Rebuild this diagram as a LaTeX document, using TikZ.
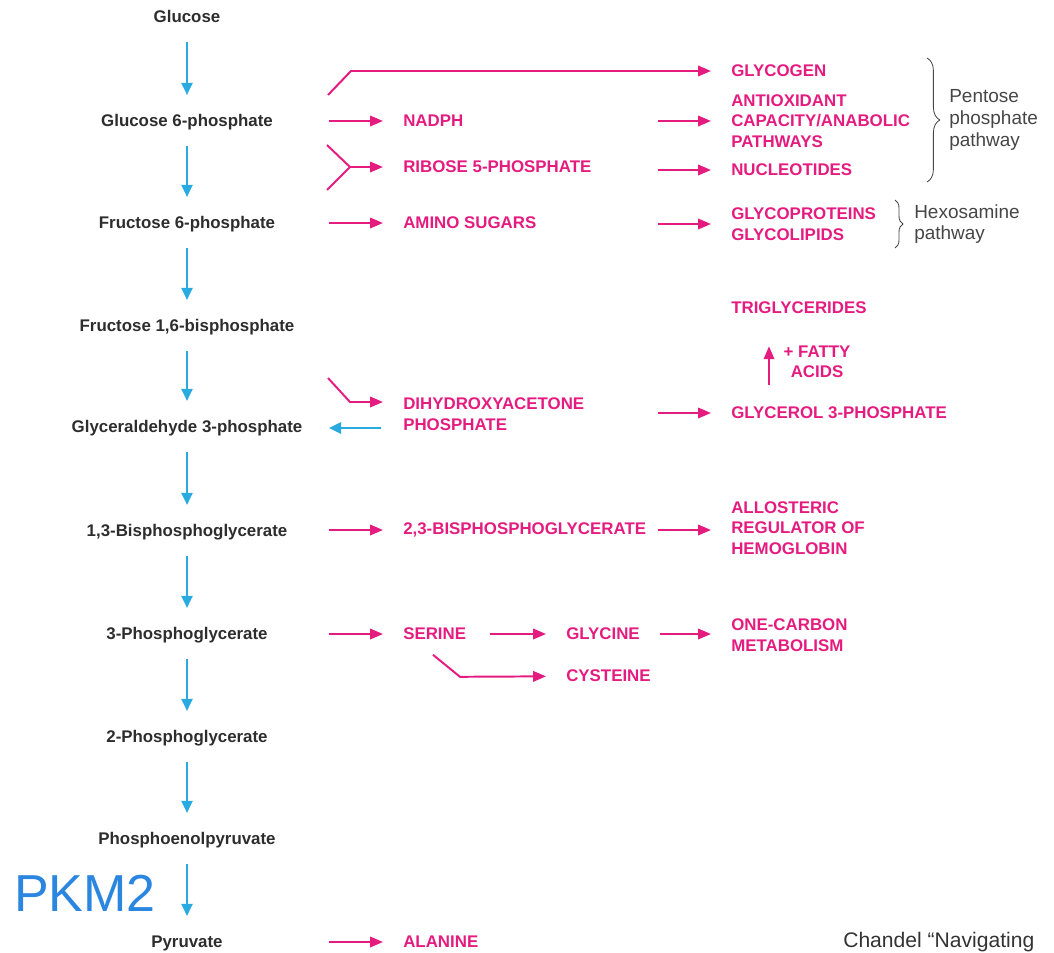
\documentclass[tikz,border=0pt]{standalone}
\usepackage{fontspec}
\setmainfont{Liberation Sans}
\usepackage{xcolor}
\definecolor{glyblue}{RGB}{41,171,226}
\definecolor{glymagenta}{RGB}{229,28,128}
\definecolor{glytext}{RGB}{45,45,45}
\definecolor{glygray}{RGB}{70,70,70}
\definecolor{pkmblue}{RGB}{43,134,224}
\usetikzlibrary{arrows.meta, positioning, decorations.pathreplacing}

\tikzset{
  metab/.style={font=\bfseries\fontsize{12}{14}\selectfont, text=glytext, inner sep=0pt,
                text height=9pt, text depth=3pt},
  branch/.style={font=\bfseries\fontsize{12}{14.6}\selectfont, text=glymagenta, inner sep=0pt,
                 anchor=west, align=left},
  pathlabel/.style={font=\fontsize{13.5}{15.5}\selectfont, text=glygray, inner sep=0pt,
                    anchor=west, align=left},
  bluearrow/.style={glyblue, line width=1.4pt, -{Triangle[length=3mm, width=2.8mm]}},
  magarrow/.style={glymagenta, line width=1.4pt, -{Triangle[length=3.2mm, width=2.6mm]}},
  magline/.style={glymagenta, line width=1.4pt},
  tonode/.style={shorten >=5mm},
  pathbrace/.style={glygray, line width=0.6pt, decorate, decoration={brace, amplitude=#1}},
  pathbrace/.default=3mm
}

\begin{document}
\begin{tikzpicture}[x=0.25mm, y=-0.25mm]
\useasboundingbox (0,0) rectangle (1054,952);
\clip (0,0) rectangle (1054,952);

% === Glycolysis (left column) ===
\node[metab] (glc) at (187,18) {Glucose};
\node[metab] (g6p) at (187,122) {Glucose 6-phosphate};
\node[metab] (f6p) at (187,224) {Fructose 6-phosphate};
\node[metab] (f16bp) at (187,327) {Fructose 1,6-bisphosphate};
\node[metab] (gap) at (187,428) {Glyceraldehyde 3-phosphate};
\node[metab] (bpg13) at (187,532) {1,3-Bisphosphoglycerate};
\node[metab] (pg3) at (187,635) {3-Phosphoglycerate};
\node[metab] (pg2) at (187,738) {2-Phosphoglycerate};
\node[metab] (pep) at (187,840) {Phosphoenolpyruvate};
\node[metab] (pyr) at (187,943) {Pyruvate};

\foreach \a/\b in {glc/g6p, g6p/f6p, f6p/f16bp, f16bp/gap, gap/bpg13,
                   bpg13/pg3, pg3/pg2, pg2/pep, pep/pyr}
  \draw[bluearrow, shorten <=3.9mm, shorten >=4.6mm] (\a) -- (\b);

\node[font=\fontsize{37}{40}\selectfont, text=pkmblue, inner sep=0pt] (pkm) at (85,893) {PKM2};

% columns where the side arrows start
\coordinate (colA) at (329,0);
\coordinate (colB) at (658,0);

% === Glucose 6-phosphate / fructose 6-phosphate branches ===
\node[branch] (glycogen) at (731,71) {GLYCOGEN};
\node[branch] (nadph) at (403,121) {NADPH};
\node[branch] (antiox) at (731,121) {ANTIOXIDANT\\CAPACITY/ANABOLIC\\PATHWAYS};
\node[branch] (ribose) at (403,167) {RIBOSE 5-PHOSPHATE};
\node[branch] (nucleo) at (731,170) {NUCLEOTIDES};
\node[branch] (amino) at (403,223) {AMINO SUGARS};
\node[branch] (glycoprot) at (731,224) {GLYCOPROTEINS\\GLYCOLIPIDS};

\coordinate (gcstart) at (328,95);
\coordinate (rbtop) at (327,145);
\coordinate (rbbot) at (327,190);
\coordinate (rbfork) at (350,167);

\draw[magarrow, tonode] (gcstart) -- ++(23,-24) -- (glycogen);
\draw[magarrow, tonode] (colA |- nadph) -- (nadph);
\draw[magline] (rbtop) -- (rbfork) -- (rbbot);
\draw[magarrow, tonode] (rbfork) -- (ribose);
\draw[magarrow, tonode] (colA |- amino) -- (amino);
\draw[magarrow, tonode] (colB |- antiox) -- (antiox);
\draw[magarrow, tonode] (colB |- nucleo) -- (nucleo);
\draw[magarrow, tonode] (colB |- glycoprot) -- (glycoprot);

% Braces
\draw[pathbrace=3.2mm] (927,58) -- (927,182);
\node[pathlabel] (ppp) at (949,120) {Pentose\\phosphate\\pathway};
\draw[pathbrace=2mm] (895,200) -- (895,248);
\node[pathlabel] (hexo) at (914,224) {Hexosamine\\pathway};

% === Triose phosphates ===
\node[branch] (trig) at (731,308) {TRIGLYCERIDES};
\node[branch, align=center, anchor=center] (fatty) at (817,362) {+ FATTY\\ACIDS};
\node[branch] (dhap) at (403,414) {DIHYDROXYACETONE\\PHOSPHATE};
\node[branch] (glycerol) at (731,413) {GLYCEROL 3-PHOSPHATE};

\coordinate (dhstart) at (328,378);
\draw[magarrow, tonode] (dhstart) -- ++(22,24) -- ([yshift=3mm]dhap.west);
\draw[bluearrow, shorten <=5.5mm] ([yshift=-3.5mm]dhap.west) -- (colA |- gap);
\draw[magarrow, tonode] (colB |- glycerol) -- (glycerol);
\draw[magarrow, shorten <=5.5mm, shorten >=8mm] ([xshift=9.5mm]glycerol.north west) -- ([xshift=9.5mm]trig.south west);

% === 1,3-Bisphosphoglycerate ===
\node[branch] (bpg23) at (403,530) {2,3-BISPHOSPHOGLYCERATE};
\node[branch] (allo) at (731,528) {ALLOSTERIC\\REGULATOR OF\\HEMOGLOBIN};
\draw[magarrow, tonode] (colA |- bpg23) -- (bpg23);
\draw[magarrow, shorten <=3mm, tonode] (bpg23) -- (bpg23 -| allo.west);

% === 3-Phosphoglycerate ===
\node[branch] (serine) at (403,634) {SERINE};
\node[branch] (glycine) at (566,634) {GLYCINE};
\node[branch] (cysteine) at (566,676) {CYSTEINE};
\node[branch] (onecarbon) at (731,635) {ONE-CARBON\\METABOLISM};
\draw[magarrow, tonode] (colA |- serine) -- (serine);
\draw[magarrow, shorten <=6mm, tonode] (serine) -- (glycine);
\draw[magarrow, shorten <=5mm, tonode] (glycine) -- (glycine -| onecarbon.west);
\draw[magarrow, tonode] ([xshift=7.5mm, yshift=-5.2mm]serine.west) -- ++(27,22) -- (cysteine);

% === Pyruvate ===
\node[branch] (alanine) at (403,942) {ALANINE};
\draw[magarrow, tonode] (colA |- alanine) -- (alanine);

\node[font=\fontsize{15}{17}\selectfont, text=black!80, anchor=west, inner sep=0pt] (cite) at (843,942) {Chandel “Navigating};

\end{tikzpicture}
\end{document}
